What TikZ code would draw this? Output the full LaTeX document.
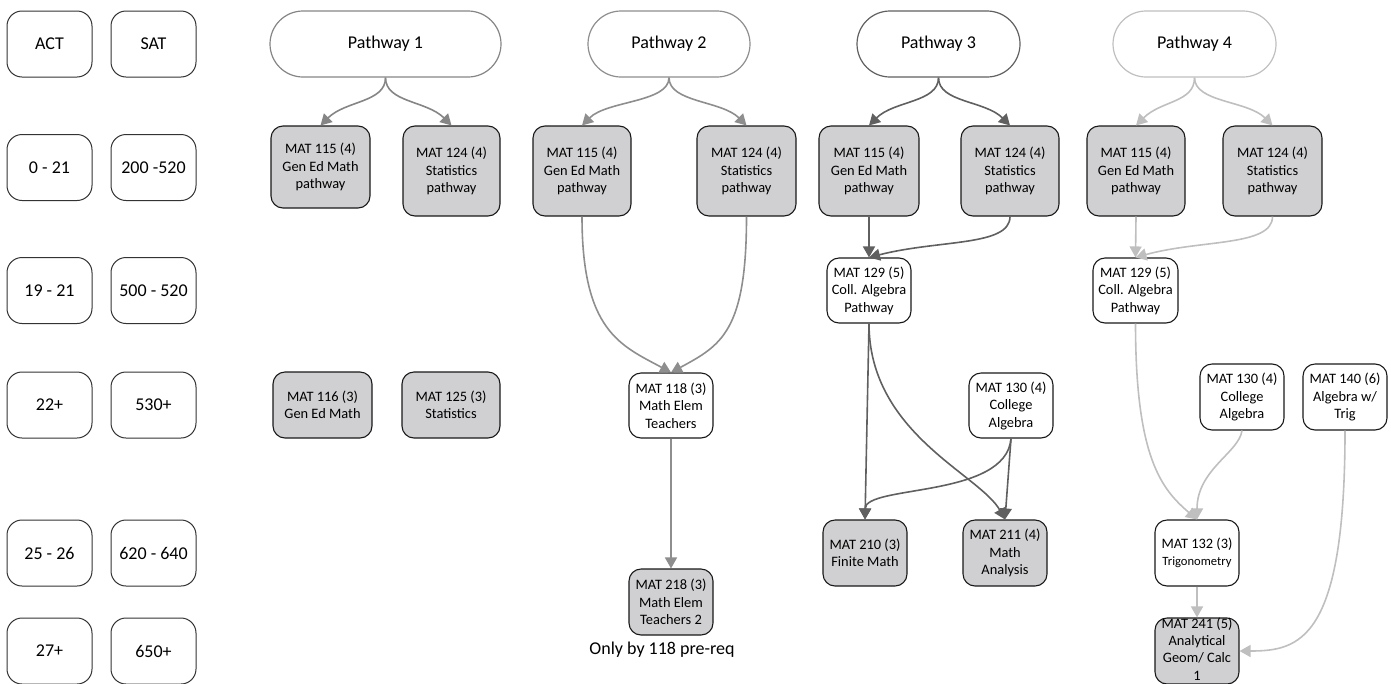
\documentclass[tikz,border=0pt]{standalone}
\usepackage{fontspec}
\setmainfont{Carlito}
\usepackage{xcolor}
\usetikzlibrary{arrows.meta}

\definecolor{boxgray}{HTML}{D0D0D2}
\definecolor{wayA}{HTML}{858585}
\definecolor{wayB}{HTML}{8E8E8E}
\definecolor{wayC}{HTML}{606060}
\definecolor{wayD}{HTML}{BFBFBF}

\tikzset{
  scorebox/.style={draw=black!80, line width=1pt, rounded corners=15pt,
    minimum width=85pt, minimum height=66pt, inner sep=0pt,
    font=\fontsize{18}{22}\selectfont},
  pathbox/.style={draw=#1, line width=1.2pt, rounded corners=33pt,
    minimum height=66pt, inner sep=0pt, font=\fontsize{18}{22}\selectfont},
  course/.style={draw=black!90, line width=1.1pt, rounded corners=12pt,
    align=center, inner sep=1pt, minimum width=84pt, minimum height=66pt,
    font=\fontsize{14.4}{17.5}\selectfont},
  taken/.style={course, fill=boxgray},
  link/.style={draw=#1, line width=1.6pt,
    -{Triangle[length=11pt,width=12pt,fill=#1]}},
}

\begin{document}
\begin{tikzpicture}[x=1pt,y=-1pt]
      \useasboundingbox (0,0) rectangle (1391,683);

      % score columns
      \node[scorebox] (act)  at (49.5,44)   {ACT};
      \node[scorebox] (sat)  at (153.5,44)  {SAT};
      \node[scorebox] (act1) at (49.5,167.5)  {0 - 21};
      \node[scorebox] (sat1) at (153.5,167.5) {200 -520};
      \node[scorebox] (act2) at (49.5,290.5)  {19 - 21};
      \node[scorebox] (sat2) at (153.5,290.5) {500 - 520};
      \node[scorebox] (act3) at (49.5,405)  {22+};
      \node[scorebox] (sat3) at (153.5,405) {530+};
      \node[scorebox] (act4) at (49.5,553)  {25 - 26};
      \node[scorebox] (sat4) at (153.5,553) {620 - 640};
      \node[scorebox] (act5) at (49.5,651)  {27+};
      \node[scorebox] (sat5) at (153.5,651) {650+};

      % pathway heads
      \node[pathbox=wayA, minimum width=231pt] (wayone)   at (385.5,44) {Pathway 1};
      \node[pathbox=wayB, minimum width=162pt] (waytwo)   at (669,44)   {Pathway 2};
      \node[pathbox=wayC, minimum width=163pt] (waythree) at (938.5,44) {Pathway 3};
      \node[pathbox=wayD, minimum width=163pt] (wayfour)  at (1194.5,44) {Pathway 4};

      % pathway 1
      \node[taken, minimum width=99pt, minimum height=82pt] (a115) at (320.5,167) {MAT 115 (4)\\Gen Ed Math\\pathway};
      \node[taken, minimum width=97pt, minimum height=90pt] (a124) at (451.5,171) {MAT 124 (4)\\Statistics\\pathway};
      \node[taken, minimum width=99pt] (a116) at (322.5,405) {MAT 116 (3)\\Gen Ed Math};
      \node[taken, minimum width=98pt] (a125) at (451,405) {MAT 125 (3)\\Statistics};

      % pathway 2
      \node[taken, minimum width=98pt, minimum height=90pt] (b115) at (582,171) {MAT 115 (4)\\Gen Ed Math\\pathway};
      \node[taken, minimum width=99pt, minimum height=90pt] (b124) at (746.5,171) {MAT 124 (4)\\Statistics\\pathway};
      \node[course, minimum height=65pt] (b118) at (671,405.5) {MAT 118 (3)\\Math Elem\\Teachers};
      \node[taken] (b218) at (671,602) {MAT 218 (3)\\Math Elem\\Teachers 2};
      \node[font=\fontsize{18}{22}\selectfont] (b218note) at (662,650) {Only by 118 pre-req};

      % pathway 3
      \node[taken, minimum width=100pt, minimum height=90pt] (c115) at (869,171) {MAT 115 (4)\\Gen Ed Math\\pathway};
      \node[taken, minimum width=98pt, minimum height=90pt] (c124) at (1010,171) {MAT 124 (4)\\Statistics\\pathway};
      \node[course, minimum height=65pt] (c129) at (869,290.5) {MAT 129 (5)\\Coll. Algebra\\Pathway};
      \node[course, minimum height=65pt] (c130) at (1011,405.5) {MAT 130 (4)\\College\\Algebra};
      \node[taken] (c210) at (865,553) {MAT 210 (3)\\Finite Math};
      \node[taken] (c211) at (1005,553) {MAT 211 (4)\\Math\\Analysis};

      % pathway 4
      \node[taken, minimum width=98pt, minimum height=90pt] (d115) at (1136,171) {MAT 115 (4)\\Gen Ed Math\\pathway};
      \node[taken, minimum width=99pt, minimum height=90pt] (d124) at (1272.5,171) {MAT 124 (4)\\Statistics\\pathway};
      \node[course, minimum width=85pt, minimum height=65pt] (d129) at (1135.5,290.5) {MAT 129 (5)\\Coll. Algebra\\Pathway};
      \node[course] (d130) at (1242,397) {MAT 130 (4)\\College\\Algebra};
      \node[course] (d140) at (1345,397) {MAT 140 (6)\\Algebra w/\\Trig};
      \node[course] (d132) at (1197,553) {MAT 132 (3)\\{\fontsize{12.6}{15}\selectfont Trigonometry}};
      \node[taken] (d241) at (1197,651) {};
      \node[align=center, inner sep=0pt, font=\fontsize{14.4}{17.3}\selectfont] (d241text) at (1197,649) {MAT 241 (5)\\Analytical\\Geom/ Calc\\1};

      % pathway 1 links
      \draw[link=wayA] (wayone.south) .. controls +(0,25) and +(25,-25) .. (a115.north);
      \draw[link=wayA] (wayone.south) .. controls +(0,25) and +(-25,-25) .. (a124.north);

      % pathway 2 links
      \draw[link=wayB] (waytwo.south) .. controls +(0,25) and +(25,-25) .. (b115.north);
      \draw[link=wayB] (waytwo.south) .. controls +(0,25) and +(-25,-25) .. (b124.north);
      \draw[link=wayB] (b115.south) .. controls +(0,115) and +(-50,-27) .. (b118.north);
      \draw[link=wayB] (b124.south) .. controls +(0,115) and +(50,-27) .. (b118.north);
      \draw[link=wayB] (b118.south) -- (b218.north);

      % pathway 3 links
      \draw[link=wayC] (waythree.south) .. controls +(0,25) and +(25,-25) .. (c115.north);
      \draw[link=wayC] (waythree.south) .. controls +(0,25) and +(-25,-25) .. (c124.north);
      \draw[link=wayC] (c115.south) -- (c129.north);
      \draw[link=wayC] (c124.south) .. controls +(0,30) and +(70,-18) .. (c129.north);
      \draw[link=wayC] (c129.south) -- (c210.north);
      \draw[link=wayC] (c129.south) .. controls +(0,110) and +(-25,-45) .. (c211.north);
      \draw[link=wayC] (c130.south) -- (c211.north);
      \draw[link=wayC] (c130.south) .. controls +(-5,60) and +(0,-35) .. (c210.north);

      % pathway 4 links
      \draw[link=wayD] (wayfour.south) .. controls +(0,25) and +(25,-25) .. (d115.north);
      \draw[link=wayD] (wayfour.south) .. controls +(0,25) and +(-25,-25) .. (d124.north);
      \draw[link=wayD] (d115.south) -- (d129.north);
      \draw[link=wayD] (d124.south) .. controls +(0,30) and +(65,-18) .. (d129.north);
      \draw[link=wayD] (d129.south) .. controls +(0,135) and +(-35,-30) .. (d132.north);
      \draw[link=wayD] (d130.south) .. controls +(-3,22) and +(0,-50) .. (d132.north);
      \draw[link=wayD] (d132.south) -- (d241.north);
      \draw[link=wayD] (d140.south) .. controls +(0,210) and +(60,0) .. (d241.east);
    \end{tikzpicture}
\end{document}
